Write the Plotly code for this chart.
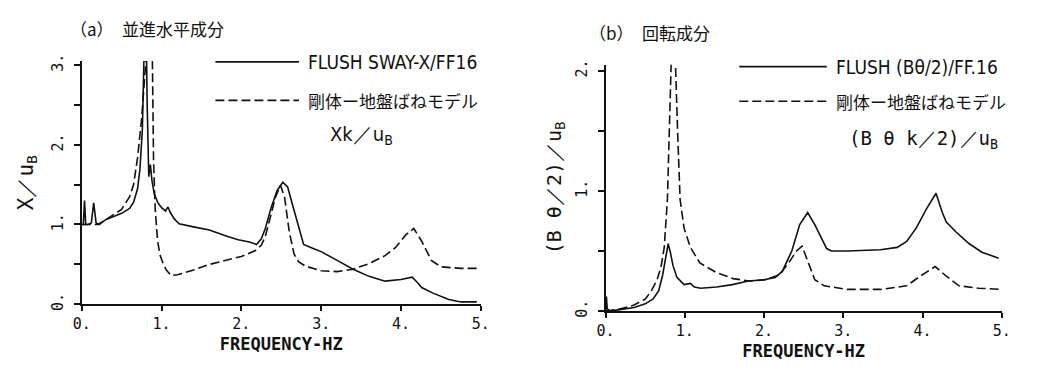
import plotly.graph_objects as go

# ---------------- data ----------------
# (a) horizontal translation component
freq_a_flush = [0, 0.02, 0.035, 0.05, 0.08, 0.12, 0.15, 0.18, 0.22, 0.3, 0.4, 0.5, 0.6, 0.65, 0.7,
                0.73, 0.76, 0.78, 0.8, 0.82, 0.84, 0.86, 0.88, 0.91, 0.95, 1.0, 1.05, 1.08, 1.11,
                1.16, 1.22, 1.4, 1.6, 1.8, 1.96, 2.1, 2.19, 2.25, 2.3, 2.37, 2.45, 2.52, 2.58,
                2.64, 2.7, 2.78, 2.9, 3.0, 3.2, 3.4, 3.6, 3.8, 4.0, 4.1, 4.14, 4.2, 4.26, 4.4,
                4.6, 4.75, 4.95]
val_a_flush = [1.0, 1.0, 1.3, 1.0, 1.0, 1.02, 1.27, 1.02, 1.0, 1.06, 1.1, 1.14, 1.2, 1.28, 1.45,
               1.7, 2.2, 2.8, 4.0, 2.5, 1.6, 1.75, 1.55, 1.38, 1.28, 1.21, 1.17, 1.22, 1.15,
               1.07, 1.01, 0.97, 0.93, 0.86, 0.81, 0.78, 0.75, 0.82, 0.95, 1.2, 1.43, 1.53, 1.47,
               1.25, 1.03, 0.75, 0.7, 0.66, 0.55, 0.44, 0.35, 0.29, 0.31, 0.33, 0.34, 0.28, 0.21,
               0.14, 0.06, 0.03, 0.03]

freq_a_model = [0, 0.1, 0.2, 0.3, 0.4, 0.5, 0.6, 0.65, 0.7, 0.75, 0.8, 0.83, 0.86, 0.87, 0.88,
                0.9, 0.92, 0.95, 0.98, 1.02, 1.06, 1.12, 1.2, 1.4, 1.6, 1.8, 2.0, 2.17, 2.25,
                2.3, 2.37, 2.43, 2.49, 2.54, 2.6, 2.66, 2.72, 2.8, 3.0, 3.2, 3.4, 3.6, 3.8,
                3.93, 4.06, 4.16, 4.26, 4.38, 4.5, 4.75, 4.96]
val_a_model = [1.0, 1.0, 1.0, 1.06, 1.12, 1.19, 1.35, 1.5, 1.84, 2.32, 3.0, 3.8, 5.0, 5.0, 3.5,
               1.8, 1.2, 0.8, 0.62, 0.51, 0.43, 0.36, 0.37, 0.43, 0.5, 0.55, 0.6, 0.67, 0.74,
               0.85, 1.11, 1.35, 1.49, 1.35, 0.91, 0.63, 0.53, 0.48, 0.42, 0.41, 0.44, 0.51,
               0.61, 0.71, 0.87, 0.95, 0.79, 0.55, 0.47, 0.45, 0.45]

# (b) rotational component
freq_b_flush = [0, 0.01, 0.02, 0.05, 0.16, 0.36, 0.5, 0.6, 0.67, 0.72, 0.76, 0.79, 0.82, 0.85,
                0.9, 0.99, 1.07, 1.12, 1.2, 1.4, 1.6, 1.8, 2.0, 2.14, 2.23, 2.35, 2.45, 2.55,
                2.64, 2.72, 2.79, 2.85, 3.05, 3.47, 3.68, 3.8, 3.92, 4.05, 4.17, 4.25, 4.3,
                4.42, 4.59, 4.75, 4.96]
val_b_flush = [0.0, 0.12, 0.02, 0.0, 0.01, 0.03, 0.06, 0.1, 0.17, 0.3, 0.45, 0.56, 0.48, 0.38,
               0.28, 0.22, 0.23, 0.2, 0.19, 0.2, 0.22, 0.25, 0.26, 0.28, 0.33, 0.5, 0.72, 0.82,
               0.72, 0.61, 0.52, 0.5, 0.5, 0.51, 0.53, 0.58, 0.69, 0.85, 0.98, 0.82, 0.74,
               0.66, 0.56, 0.49, 0.44]

freq_b_model = [0, 0.2, 0.36, 0.5, 0.57, 0.65, 0.7, 0.74, 0.78, 0.81, 0.83, 0.85, 0.87, 0.89,
                0.91, 0.94, 0.99, 1.07, 1.19, 1.4, 1.61, 1.81, 2.02, 2.19, 2.31, 2.41, 2.48,
                2.56, 2.64, 2.76, 3.05, 3.47, 3.8, 3.97, 4.16, 4.3, 4.46, 4.71, 5.0]
val_b_model = [0, 0.02, 0.05, 0.1, 0.16, 0.26, 0.37, 0.53, 0.93, 1.6, 2.1, 2.6, 2.3, 1.8,
               1.47, 0.93, 0.69, 0.53, 0.4, 0.32, 0.27, 0.25, 0.26, 0.3, 0.4, 0.5, 0.54,
               0.4, 0.26, 0.21, 0.18, 0.18, 0.21, 0.29, 0.37, 0.29, 0.21, 0.19, 0.18]

x_ticks = [0, 1, 2, 3, 4, 5]
x_tick_labels = ["0.", "1.", "2.", "3.", "4.", "5."]
ya_ticks = [0, 0.5, 1, 1.5, 2, 2.5, 3]
ya_tick_labels = ["0.", "", "1.", "", "2.", "", "3."]
yb_ticks = [0, 0.5, 1, 1.5, 2]
yb_tick_labels = ["0.", "", "1.", "", "2."]

# ---------------- figure ----------------
W, H = 1053, 370
INK = "#111111"
MONO = "DejaVu Sans Mono, monospace"
NARROW = "Liberation Sans Narrow, DejaVu Sans Condensed, Liberation Sans, sans-serif"
JP = "Noto Sans CJK JP, sans-serif"

fig = go.Figure()
line_solid = dict(color=INK, width=1.6)
line_dash = dict(color=INK, width=1.6, dash="9px,4px")

fig.add_trace(go.Scatter(x=freq_a_flush, y=val_a_flush, mode="lines", line=line_solid,
                         xaxis="x", yaxis="y", showlegend=False))
fig.add_trace(go.Scatter(x=freq_a_model, y=val_a_model, mode="lines", line=line_dash,
                         xaxis="x", yaxis="y", showlegend=False))
fig.add_trace(go.Scatter(x=freq_b_flush, y=val_b_flush, mode="lines", line=line_solid,
                         xaxis="x2", yaxis="y2", showlegend=False))
fig.add_trace(go.Scatter(x=freq_b_model, y=val_b_model, mode="lines", line=line_dash,
                         xaxis="x2", yaxis="y2", showlegend=False))

def px_x(p):
    return p / W

def px_y(p):
    return 1 - p / H

xcommon = dict(range=[0, 5], tickvals=x_ticks, ticktext=x_tick_labels, showline=True,
               linecolor=INK, linewidth=1.6, ticks="outside", ticklen=5, tickwidth=1.5,
               tickcolor=INK, showgrid=False, zeroline=False,
               tickfont=dict(family=MONO, size=15, color=INK),
               title=dict(text="<b>FREQUENCY-HZ</b>", font=dict(family=MONO, size=17, color=INK),
                          standoff=6))
ycommon = dict(showline=True, linecolor=INK, linewidth=1.6, ticks="outside", ticklen=6,
               tickwidth=1.5, tickcolor=INK, showgrid=False, zeroline=False, tickangle=-90,
               ticklabelstandoff=5,
               tickfont=dict(family=MONO, size=15, color=INK))

fig.update_layout(
    width=W, height=H,
    margin=dict(l=0, r=0, t=0, b=0),
    paper_bgcolor="white", plot_bgcolor="white",
    xaxis=dict(domain=[px_x(74), px_x(480)], anchor="y", **xcommon),
    yaxis=dict(domain=[px_y(309), px_y(56)], anchor="x", range=[0, 3.05],
               tickvals=ya_ticks, ticktext=ya_tick_labels,
               title=dict(text="X／u<sub>B</sub>", font=dict(family=MONO, size=21, color=INK),
                          standoff=10), **ycommon),
    xaxis2=dict(domain=[px_x(607), px_x(1010)], anchor="y2", **xcommon),
    yaxis2=dict(domain=[px_y(316), px_y(60)], anchor="x2", range=[0, 2.05],
                tickvals=yb_ticks, ticktext=yb_tick_labels,
                title=dict(text="(B θ／2)／u<sub>B</sub>",
                           font=dict(family=MONO, size=20, color=INK), standoff=6),
                **ycommon),
)

# panel titles
fig.add_annotation(x=px_x(60), y=px_y(22), xref="paper", yref="paper", xanchor="left",
                   yanchor="middle", showarrow=False,
                   text="（a）　並進水平成分", font=dict(family=JP, size=17, color=INK))
fig.add_annotation(x=px_x(588), y=px_y(27), xref="paper", yref="paper", xanchor="left",
                   yanchor="middle", showarrow=False,
                   text="（b）　回転成分", font=dict(family=JP, size=17, color=INK))

# legends (drawn as key lines + text)
def legend_item(x0, x1, y, dash, text, font, size):
    fig.add_shape(type="line", xref="paper", yref="paper", x0=px_x(x0), x1=px_x(x1),
                  y0=px_y(y), y1=px_y(y),
                  line=dict(color=INK, width=1.6, dash=dash))
    fig.add_annotation(x=px_x(x1 + 7), y=px_y(y), xref="paper", yref="paper",
                       xanchor="left", yanchor="middle", showarrow=False, text=text,
                       font=dict(family=font, size=size, color=INK))

legend_item(210, 295, 57, "solid", "FLUSH SWAY-X/FF16", NARROW, 19)
legend_item(210, 295, 97, "9px,4px", "剛体ー地盤ばねモデル", JP, 17)
fig.add_annotation(x=px_x(325), y=px_y(133), xref="paper", yref="paper", xanchor="left",
                   yanchor="middle", showarrow=False, text="Xk／u<sub>B</sub>",
                   font=dict(family=NARROW, size=20, color=INK))

legend_item(743, 832, 62, "solid", "FLUSH (Bθ/2)/FF.16", NARROW, 19)
legend_item(743, 832, 98, "9px,4px", "剛体ー地盤ばねモデル", JP, 17)
fig.add_annotation(x=px_x(853), y=px_y(138), xref="paper", yref="paper", xanchor="left",
                   yanchor="middle", showarrow=False, text="(B θ k／2)／u<sub>B</sub>",
                   font=dict(family=MONO, size=19, color=INK))

fig.write_html("out.html")
